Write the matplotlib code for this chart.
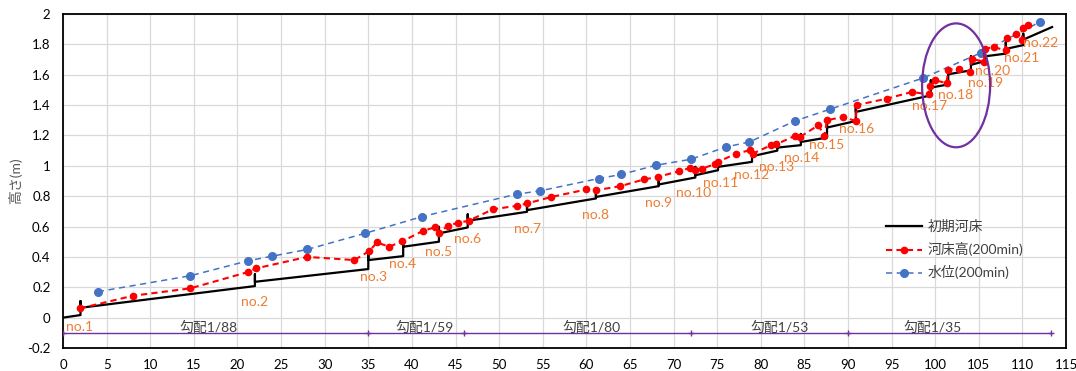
import matplotlib
matplotlib.use('Agg')
from matplotlib import pyplot as plt
from matplotlib.patches import Ellipse
import numpy as np

plt.rcParams['font.family'] = ['Lato', 'Noto Sans CJK JP', 'DejaVu Sans']

# 初期河床 (step profile with check dams)
bed_x = [0, 2, 2, 2, 22, 22, 22, 35, 35, 35, 39, 39, 39, 43.1, 43.1, 43.1,
         46.4, 46.4, 46.4, 53.2, 53.2, 53.2, 61.1, 61.1, 61.1, 68.3, 68.3, 68.3,
         72.5, 72.5, 72.5, 75.1, 75.1, 75.1, 79.0, 79.0, 79.0, 81.9, 81.9, 81.9,
         84.6, 84.6, 84.6, 87.6, 87.6, 87.6, 90.9, 90.9, 90.9, 99.5, 99.5, 99.5,
         101.5, 101.5, 101.5, 104.1, 104.1, 104.1, 105.7, 105.7, 105.7,
         108.1, 108.1, 108.1, 110.1, 110.1, 110.1, 113.4]
bed_y = [0, 0.017, 0.109, 0.065, 0.208, 0.285, 0.236, 0.32, 0.42, 0.379,
         0.405, 0.50, 0.467, 0.50, 0.598, 0.555, 0.594, 0.68, 0.638,
         0.697, 0.73, 0.708, 0.785, 0.828, 0.795, 0.866, 0.93, 0.877,
         0.923, 0.993, 0.938, 0.971, 1.026, 0.993, 1.026, 1.103, 1.063,
         1.10, 1.157, 1.12, 1.136, 1.21, 1.157, 1.186, 1.289, 1.252,
         1.295, 1.40, 1.355, 1.464, 1.563, 1.515, 1.536, 1.64, 1.603,
         1.629, 1.721, 1.665, 1.69, 1.761, 1.721, 1.739, 1.815, 1.77,
         1.795, 1.87, 1.831, 1.914]

# 河床高(200min)
bedh_x = [1.95, 8.0, 14.6, 21.2, 22.1, 28.0, 33.4, 35.1, 36.0, 37.4, 38.9,
          41.3, 42.6, 43.1, 44.1, 45.3, 46.5, 49.3, 52.0, 53.2, 56.0, 60.0,
          61.1, 63.9, 66.6, 68.2, 70.6, 71.9, 72.5, 73.3, 74.7, 75.1, 77.2,
          78.8, 79.1, 81.2, 81.8, 83.9, 84.5, 86.6, 87.3, 87.6, 89.4, 90.9,
          91.0, 94.5, 97.3, 99.3, 99.4, 100.0, 101.3, 101.5, 102.7, 104.0,
          104.2, 105.6, 105.7, 106.7, 108.1, 108.2, 109.3, 109.9, 110.1, 110.7]
bedh_y = [0.061, 0.144, 0.193, 0.30, 0.324, 0.40, 0.379, 0.438, 0.495, 0.467,
          0.503, 0.572, 0.594, 0.559, 0.605, 0.625, 0.638, 0.714, 0.736, 0.752,
          0.795, 0.844, 0.839, 0.866, 0.91, 0.927, 0.964, 0.986, 0.975, 0.982,
          1.01, 1.026, 1.081, 1.103, 1.081, 1.136, 1.142, 1.197, 1.19, 1.267,
          1.197, 1.30, 1.322, 1.295, 1.40, 1.443, 1.486, 1.471, 1.524, 1.563,
          1.545, 1.633, 1.64, 1.62, 1.706, 1.684, 1.771, 1.782, 1.76, 1.844,
          1.866, 1.826, 1.91, 1.925]

# 水位(200min)
wl_x = [4.0, 14.6, 21.2, 24.0, 28.0, 34.6, 41.2, 52.0, 54.7, 61.4, 64.0,
        68.0, 72.0, 76.0, 78.7, 83.9, 87.9, 98.6, 105.2, 112.0]
wl_y = [0.171, 0.276, 0.374, 0.405, 0.449, 0.555, 0.666, 0.813, 0.835, 0.916,
        0.943, 1.004, 1.043, 1.124, 1.157, 1.295, 1.372, 1.578, 1.743, 1.947]

# dam labels
dam_names = ['no.%d' % i for i in range(1, 23)]
dam_lx = [1.95, 22.0, 35.6, 38.9, 43.0, 46.4, 53.2, 61.1, 68.3, 72.3, 75.4,
          79.0, 81.8, 84.7, 87.6, 91.0, 99.4, 102.3, 105.8, 106.6, 109.9, 112.1]
dam_ly = [-0.064, 0.105, 0.27, 0.35, 0.434, 0.515, 0.587, 0.675, 0.758, 0.822,
          0.885, 0.938, 0.992, 1.052, 1.136, 1.24, 1.392, 1.464, 1.545, 1.624,
          1.712, 1.81]

# gradient sections
sect_x = [0, 35, 46, 72, 90, 113.3]
sect_names = ['勾配1/88', '勾配1/59', '勾配1/80', '勾配1/53', '勾配1/35']
sect_lx = [16.7, 41.5, 60.6, 82.2, 99.7]

fig = plt.figure(figsize=(10.76, 3.71), dpi=100)
ax = fig.add_axes([0.0586, 0.062, 0.9321, 0.9003])

ax.plot(bed_x, bed_y, color='black', lw=1.6, label='初期河床', zorder=4)
ax.plot(bedh_x, bedh_y, color='#FF0000', lw=1.5, ls=(0, (3, 2)), marker='o',
        ms=4.5, label='河床高(200min)', zorder=5)
ax.plot(wl_x, wl_y, color='#4472C4', lw=1.1, ls=(0, (4, 3)), marker='o',
        ms=5.5, label='水位(200min)', zorder=3)

# gradient line
ax.plot(sect_x, [-0.1] * len(sect_x), color='#7030A0', lw=1, marker='+',
        ms=5, mew=1, zorder=3)
for name, lx in zip(sect_names, sect_lx):
    ax.text(lx, -0.066, name, ha='center', va='center', fontsize=10,
            color='#404040')

for name, lx, ly in zip(dam_names, dam_lx, dam_ly):
    ax.text(lx, ly, name, ha='center', va='center', fontsize=10,
            color='#ED7D31', zorder=6)

ax.add_patch(Ellipse((102.4, 1.53), 7.8, 0.816, fill=False,
                     edgecolor='#7030A0', lw=1.6, zorder=7))

ax.set_xlim(0, 115)
ax.set_ylim(-0.2, 2)
ax.set_xticks(np.arange(0, 116, 5))
yt = np.round(np.arange(-0.2, 2.01, 0.2), 1)
ax.set_yticks(yt)
ax.set_yticklabels(['%g' % v for v in yt])
ax.tick_params(length=0, labelsize=9.5, colors='black')
ax.tick_params(axis='x', pad=8)
ax.tick_params(axis='y', pad=9)
ax.grid(color='#d9d9d9', lw=0.9)
ax.set_axisbelow(True)
for sp in ax.spines.values():
    sp.set_color('black')
    sp.set_linewidth(1.3)

ax.set_ylabel('高さ(m)', fontsize=10, color='#595959')
ax.yaxis.set_label_coords(-0.041, 0.5)

ax.legend(loc='upper left', bbox_to_anchor=(0.808, 0.42), frameon=False,
          fontsize=10, handlelength=2.6, handletextpad=0.4,
          labelspacing=0.65, labelcolor='#404040')

fig.savefig('out.png', dpi=100)
